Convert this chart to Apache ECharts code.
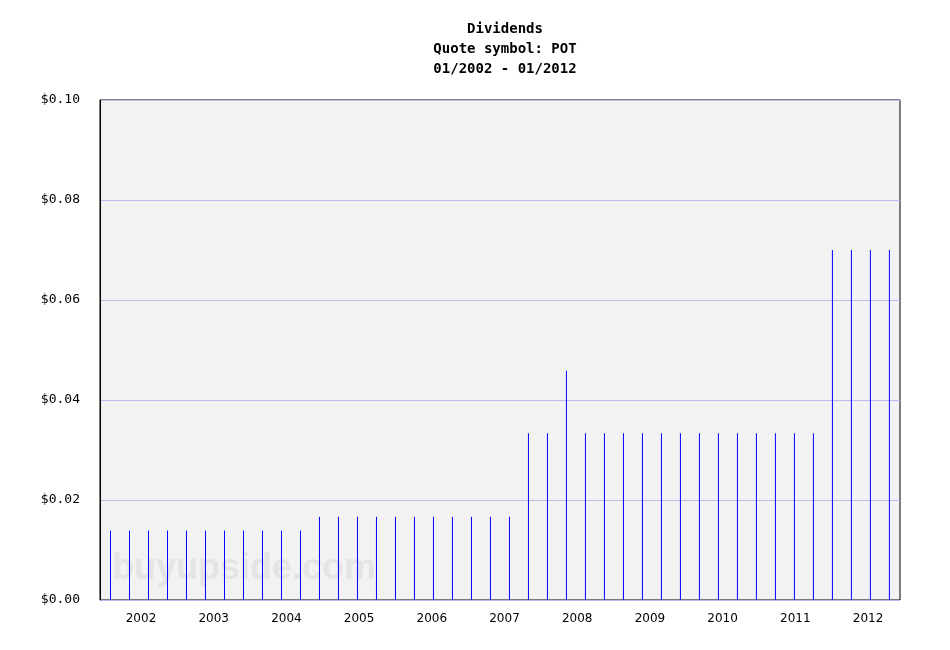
<!DOCTYPE html>
<html>
<head>
<meta charset="utf-8">
<script src="https://cdn.jsdelivr.net/npm/echarts@6/dist/echarts.min.js"></script>
<style>html,body{margin:0;padding:0;background:#fff;}#c{width:950px;height:650px;}</style>
</head>
<body>
<div id="c"></div>
<script>
var titleLines = ['Dividends', 'Quote symbol: POT', '01/2002 - 01/2012'];
var yearLabels = [2002, 2003, 2004, 2005, 2006, 2007, 2008, 2009, 2010, 2011, 2012];
var yTicks = [0, 0.02, 0.04, 0.06, 0.08, 0.10];
var dividends = [
  0.01389, 0.01389, 0.01389, 0.01389, 0.01389, 0.01389, 0.01389, 0.01389, 0.01389, 0.01389, 0.01389,
  0.01667, 0.01667, 0.01667, 0.01667, 0.01667, 0.01667, 0.01667, 0.01667, 0.01667, 0.01667, 0.01667,
  0.03333, 0.03333, 0.04583, 0.03333, 0.03333, 0.03333, 0.03333, 0.03333,
  0.03333, 0.03333, 0.03333, 0.03333, 0.03333, 0.03333, 0.03333, 0.03333,
  0.07, 0.07, 0.07, 0.07
];

var chart = echarts.init(document.getElementById('c'), null, {renderer: 'canvas'});
var barData = dividends.map(function (v, i) { return [i, v]; });

chart.setOption({
  animation: false,
  backgroundColor: '#ffffff',
  title: {
    text: titleLines.join('\n'),
    left: 500,
    top: 14,
    textAlign: 'center',
    textStyle: {
      fontFamily: 'DejaVu Sans Mono',
      fontSize: 14,
      fontWeight: 'bold',
      lineHeight: 20,
      color: '#000'
    }
  },
  graphic: [{
    type: 'text',
    left: 112,
    top: 551,
    z: 0,
    silent: true,
    style: {
      text: 'buyupside.com',
      fontFamily: 'Liberation Sans',
      fontWeight: 'bold',
      fontSize: 36,
      fill: '#e4e4e4'
    }
  }],
  grid: {
    left: 100, right: 50, top: 100, bottom: 50,
    show: true,
    backgroundColor: '#f2f2f2',
    borderColor: '#000',
    borderWidth: 1
  },
  xAxis: [{
    type: 'value',
    min: -0.5526,
    max: 41.5579,
    axisLine: {show: false},
    axisTick: {show: false},
    axisLabel: {show: false},
    splitLine: {show: false}
  }, {
    type: 'value',
    position: 'bottom',
    min: 2001.436,
    max: 2012.44,
    axisLine: {show: false},
    axisTick: {show: false},
    splitLine: {show: false},
    axisLabel: {
      customValues: yearLabels,
      formatter: function (v) { return String(Math.round(v)); },
      margin: 13,
      fontFamily: 'DejaVu Sans',
      fontSize: 12,
      color: '#000'
    }
  }],
  yAxis: {
    type: 'value',
    min: 0,
    max: 0.1,
    interval: 0.02,
    axisLine: {show: true, onZero: false, lineStyle: {color: '#000'}},
    axisTick: {show: false},
    splitLine: {show: true, lineStyle: {color: '#bbbbee', width: 1}},
    axisLabel: {
      margin: 20,
      fontFamily: 'DejaVu Sans Mono',
      fontSize: 13,
      color: '#000',
      formatter: function (v) { return '$' + v.toFixed(2); }
    }
  },
  series: [{
    type: 'bar',
    xAxisIndex: 0,
    data: barData,
    barWidth: 1,
    itemStyle: {color: '#0000ff'},
    z: 3
  }]
});
</script>
</body>
</html>
